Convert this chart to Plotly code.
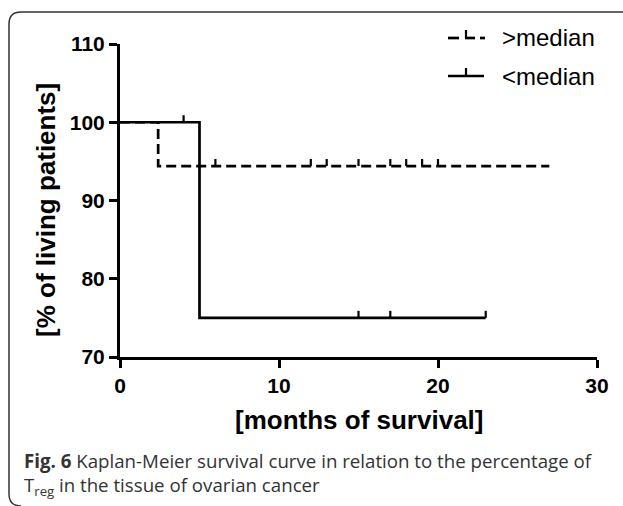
import plotly.graph_objects as go

# ---- data ----
above_x = [0, 2.4, 27]
above_y = [100, 94.4, 94.4]
above_censor_x = [6, 12, 13, 15, 17, 18, 19, 20]
above_censor_y = [94.4] * 8

below_x = [0, 5, 23]
below_y = [100, 75, 75]
below_censor_x = [4, 15, 17, 23]
below_censor_y = [100, 75, 75, 75]

x_ticks = [0, 10, 20, 30]
y_ticks = [70, 80, 90, 100, 110]
legend_labels = [">median", "<median"]

W, H = 623, 506
L, R, T, B = 120, 597, 44, 357


def px(x):
    return (x - L) / (R - L)


def py(y):
    return (B - y) / (B - T)


def tick_segments(xs, ys, h=0.9):
    sx, sy = [], []
    for x, y in zip(xs, ys):
        sx += [x, x, None]
        sy += [y, y + h, None]
    return sx, sy


fig = go.Figure()
fig.add_trace(go.Scatter(x=above_x, y=above_y, mode="lines", line_shape="hv",
                         line=dict(color="black", width=2.7, dash="10px,5px"),
                         showlegend=False, name=legend_labels[0]))
fig.add_trace(go.Scatter(x=below_x, y=below_y, mode="lines", line_shape="hv",
                         line=dict(color="black", width=2.7),
                         showlegend=False, name=legend_labels[1]))
for cx, cy in [(above_censor_x, above_censor_y), (below_censor_x, below_censor_y)]:
    sx, sy = tick_segments(cx, cy)
    fig.add_trace(go.Scatter(x=sx, y=sy, mode="lines",
                             line=dict(color="black", width=2.2), showlegend=False))

axis_font = dict(family="Arial, Liberation Sans", size=21, color="black", weight="bold")
common = dict(showgrid=False, zeroline=False, showline=True, linecolor="black",
              linewidth=3, ticks="outside", ticklen=8, tickwidth=3, tickcolor="black",
              tickfont=axis_font)
fig.update_xaxes(range=[0, 30], tickvals=x_ticks, **common)
fig.update_yaxes(range=[70, 110], tickvals=y_ticks, **common)

shapes = []
# rounded border
x0, y0, x1 = px(9), py(12), px(640)
rx = 12 / (R - L)
ry = 12 / (B - T)
path = (f"M {x0} {py(494)} L {x0} {y0 - ry} Q {x0} {y0} {x0 + rx} {y0} "
        f"L {x1} {y0}")
shapes.append(dict(type="path", xref="paper", yref="paper", path=path,
                   line=dict(color="#333", width=1.5)))
path2 = f"M {x0} {py(494)} Q {x0} {py(506)} {px(21)} {py(506)}"
shapes.append(dict(type="path", xref="paper", yref="paper", path=path2,
                   line=dict(color="#333", width=1.5)))


def seg(xa, xb, ya, yb, w=2.7):
    shapes.append(dict(type="line", xref="paper", yref="paper", x0=px(xa), x1=px(xb),
                       y0=py(ya), y1=py(yb), line=dict(color="black", width=w)))


# custom legend symbols
seg(448, 459, 38, 38)
seg(465, 475, 38, 38)
seg(466, 466, 38, 30, 2.2)
seg(480, 485, 38, 38)
seg(448, 484, 76, 76)
seg(466, 466, 76, 68, 2.2)

annotations = []
leg_font = dict(family="Arial, Liberation Sans", size=24, color="black")
for lab, yy in zip(legend_labels, [37, 76]):
    annotations.append(dict(text=lab, xref="paper", yref="paper", x=px(500), y=py(yy),
                            xanchor="left", yanchor="middle", showarrow=False, font=leg_font))

title_font = dict(family="Arial, Liberation Sans", size=26, color="black", weight="bold")
annotations.append(dict(text="[months of survival]", xref="paper", yref="paper",
                        x=px(359), y=py(420), xanchor="center", yanchor="middle",
                        showarrow=False, font=title_font))
annotations.append(dict(text="[% of living patients]", xref="paper", yref="paper",
                        x=px(46), y=py(210), xanchor="center", yanchor="middle",
                        textangle=-90, showarrow=False, font=title_font))

cap_font = dict(family="Open Sans", size=18.7, color="#333333")
annotations.append(dict(text="<b>Fig. 6</b> Kaplan-Meier survival curve in relation to the percentage of",
                        xref="paper", yref="paper", x=px(22), y=py(446), xanchor="left",
                        yanchor="top", showarrow=False, font=cap_font))
annotations.append(dict(text="T<sub>reg</sub> in the tissue of ovarian cancer",
                        xref="paper", yref="paper", x=px(22), y=py(470), xanchor="left",
                        yanchor="top", showarrow=False, font=cap_font))

fig.update_layout(width=W, height=H, margin=dict(l=L, r=W - R, t=T, b=H - B),
                  plot_bgcolor="white", paper_bgcolor="white",
                  shapes=shapes, annotations=annotations, showlegend=False)

fig.write_html("out.html")
